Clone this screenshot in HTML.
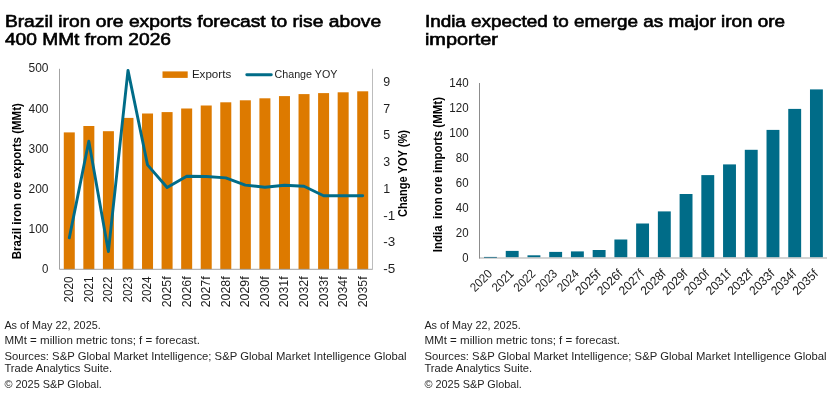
<!DOCTYPE html>
<html lang="en">
<head>
<meta charset="utf-8">
<title>Iron ore charts</title>
<style>
html,body{margin:0;padding:0;background:#fff;}
body{width:840px;height:401px;overflow:hidden;}
svg{display:block;}
text{font-family:"Liberation Sans", sans-serif;fill:#000;}
.t{font-size:17px;stroke:#000;stroke-width:0.62px;}
.a{font-size:12.4px;fill:#1e1e1e;}
.l{font-size:11.5px;fill:#1e1e1e;}
.v{font-size:13.4px;fill:#1e1e1e;}
.b{font-size:12px;font-weight:bold;white-space:pre;}
.f{font-size:11px;fill:#1e1e1e;}
</style>
</head>
<body>
<svg width="840" height="401" viewBox="0 0 840 401">
<rect x="0" y="0" width="840" height="401" fill="#fff"/>
<g fill="#DD7A00">
<rect x="63.78" y="132.40" width="11.00" height="136.80"/>
<rect x="83.34" y="126.00" width="11.00" height="143.20"/>
<rect x="102.91" y="131.20" width="11.00" height="138.00"/>
<rect x="122.47" y="117.90" width="11.00" height="151.30"/>
<rect x="142.03" y="113.50" width="11.00" height="155.70"/>
<rect x="161.59" y="112.10" width="11.00" height="157.10"/>
<rect x="181.16" y="108.50" width="11.00" height="160.70"/>
<rect x="200.72" y="105.50" width="11.00" height="163.70"/>
<rect x="220.28" y="102.30" width="11.00" height="166.90"/>
<rect x="239.84" y="100.30" width="11.00" height="168.90"/>
<rect x="259.41" y="98.30" width="11.00" height="170.90"/>
<rect x="278.97" y="96.10" width="11.00" height="173.10"/>
<rect x="298.53" y="94.10" width="11.00" height="175.10"/>
<rect x="318.09" y="93.10" width="11.00" height="176.10"/>
<rect x="337.66" y="92.30" width="11.00" height="176.90"/>
<rect x="357.22" y="91.30" width="11.00" height="177.90"/>
</g>
<path d="M59.5 68.8 V269.3 H372.5" stroke="#999" stroke-width="0.9" fill="none"/>
<path d="M372.5 68.8 V269.7" stroke="#bcbcbc" stroke-width="1" fill="none"/>
<polyline points="69.3,237.9 88.8,141.2 108.4,251.6 128.0,70.4 147.5,164.9 167.1,187.5 186.7,176.3 206.2,176.5 225.8,177.9 245.3,185.1 264.9,187.3 284.5,185.3 304.0,186.3 323.6,195.7 343.2,195.7 362.7,195.7" fill="none" stroke="#006C88" stroke-width="2.9" stroke-linejoin="round" stroke-linecap="round"/>
<rect x="162.5" y="71.4" width="25.2" height="6.5" fill="#DD7A00"/>
<text class="l" x="191.9" y="77.6" textLength="39.3" lengthAdjust="spacingAndGlyphs">Exports</text>
<line x1="246.8" y1="74.7" x2="271.3" y2="74.7" stroke="#006C88" stroke-width="2.9" stroke-linecap="round"/>
<text class="l" x="274.5" y="77.6" textLength="62.9" lengthAdjust="spacingAndGlyphs">Change YOY</text>
<text class="a" x="48.5" y="273" text-anchor="end" textLength="6.4" lengthAdjust="spacingAndGlyphs">0</text>
<text class="a" x="48.5" y="233" text-anchor="end" textLength="20.0" lengthAdjust="spacingAndGlyphs">100</text>
<text class="a" x="48.5" y="193" text-anchor="end" textLength="20.0" lengthAdjust="spacingAndGlyphs">200</text>
<text class="a" x="48.5" y="153" text-anchor="end" textLength="20.0" lengthAdjust="spacingAndGlyphs">300</text>
<text class="a" x="48.5" y="113" text-anchor="end" textLength="20.0" lengthAdjust="spacingAndGlyphs">400</text>
<text class="a" x="48.5" y="72" text-anchor="end" textLength="20.0" lengthAdjust="spacingAndGlyphs">500</text>
<text class="a" x="383.2" y="273.0" textLength="12.0" lengthAdjust="spacingAndGlyphs">-5</text>
<text class="a" x="383.2" y="246.3" textLength="12.0" lengthAdjust="spacingAndGlyphs">-3</text>
<text class="a" x="383.2" y="219.6" textLength="12.0" lengthAdjust="spacingAndGlyphs">-1</text>
<text class="a" x="383.2" y="192.9">1</text>
<text class="a" x="383.2" y="166.2">3</text>
<text class="a" x="383.2" y="139.4">5</text>
<text class="a" x="383.2" y="112.7">7</text>
<text class="a" x="383.2" y="86.0">9</text>
<text class="b" transform="translate(20.9,259.2) rotate(-90)" textLength="156" lengthAdjust="spacingAndGlyphs">Brazil iron ore exports (MMt)</text>
<text class="b" transform="translate(406.6,217) rotate(-90)" textLength="87" lengthAdjust="spacingAndGlyphs">Change YOY (%)</text>
<text class="v" transform="translate(72.98,276.4) rotate(-90)" text-anchor="end" textLength="26.2" lengthAdjust="spacingAndGlyphs">2020</text>
<text class="v" transform="translate(92.57,276.4) rotate(-90)" text-anchor="end" textLength="26.2" lengthAdjust="spacingAndGlyphs">2021</text>
<text class="v" transform="translate(112.16,276.4) rotate(-90)" text-anchor="end" textLength="26.2" lengthAdjust="spacingAndGlyphs">2022</text>
<text class="v" transform="translate(131.75,276.4) rotate(-90)" text-anchor="end" textLength="26.2" lengthAdjust="spacingAndGlyphs">2023</text>
<text class="v" transform="translate(151.34,276.4) rotate(-90)" text-anchor="end" textLength="26.2" lengthAdjust="spacingAndGlyphs">2024</text>
<text class="v" transform="translate(170.93,276.4) rotate(-90)" text-anchor="end" textLength="30.9" lengthAdjust="spacingAndGlyphs">2025f</text>
<text class="v" transform="translate(190.52,276.4) rotate(-90)" text-anchor="end" textLength="30.9" lengthAdjust="spacingAndGlyphs">2026f</text>
<text class="v" transform="translate(210.11,276.4) rotate(-90)" text-anchor="end" textLength="30.9" lengthAdjust="spacingAndGlyphs">2027f</text>
<text class="v" transform="translate(229.70,276.4) rotate(-90)" text-anchor="end" textLength="30.9" lengthAdjust="spacingAndGlyphs">2028f</text>
<text class="v" transform="translate(249.29,276.4) rotate(-90)" text-anchor="end" textLength="30.9" lengthAdjust="spacingAndGlyphs">2029f</text>
<text class="v" transform="translate(268.88,276.4) rotate(-90)" text-anchor="end" textLength="30.9" lengthAdjust="spacingAndGlyphs">2030f</text>
<text class="v" transform="translate(288.47,276.4) rotate(-90)" text-anchor="end" textLength="30.9" lengthAdjust="spacingAndGlyphs">2031f</text>
<text class="v" transform="translate(308.06,276.4) rotate(-90)" text-anchor="end" textLength="30.9" lengthAdjust="spacingAndGlyphs">2032f</text>
<text class="v" transform="translate(327.65,276.4) rotate(-90)" text-anchor="end" textLength="30.9" lengthAdjust="spacingAndGlyphs">2033f</text>
<text class="v" transform="translate(347.24,276.4) rotate(-90)" text-anchor="end" textLength="30.9" lengthAdjust="spacingAndGlyphs">2034f</text>
<text class="v" transform="translate(366.83,276.4) rotate(-90)" text-anchor="end" textLength="30.9" lengthAdjust="spacingAndGlyphs">2035f</text>
<g fill="#006C88">
<rect x="484.02" y="257.20" width="12.90" height="0.40"/>
<rect x="505.75" y="250.90" width="12.90" height="6.70"/>
<rect x="527.48" y="255.30" width="12.90" height="2.30"/>
<rect x="549.21" y="251.90" width="12.90" height="5.70"/>
<rect x="570.94" y="251.40" width="12.90" height="6.20"/>
<rect x="592.67" y="250.00" width="12.90" height="7.60"/>
<rect x="614.40" y="239.50" width="12.90" height="18.10"/>
<rect x="636.13" y="223.50" width="12.90" height="34.10"/>
<rect x="657.87" y="211.40" width="12.90" height="46.20"/>
<rect x="679.60" y="194.00" width="12.90" height="63.60"/>
<rect x="701.33" y="175.10" width="12.90" height="82.50"/>
<rect x="723.06" y="164.40" width="12.90" height="93.20"/>
<rect x="744.79" y="149.80" width="12.90" height="107.80"/>
<rect x="766.52" y="129.90" width="12.90" height="127.70"/>
<rect x="788.25" y="108.90" width="12.90" height="148.70"/>
<rect x="809.98" y="89.40" width="12.90" height="168.20"/>
</g>
<path d="M479 258.0 H827" stroke="#c6c6c6" stroke-width="1.5" fill="none"/>
<path d="M479.5 83 V258.5" stroke="#8c8c8c" stroke-width="1" fill="none"/>
<rect x="484.0" y="256.9" width="12.9" height="1.0" fill="#3f7f95"/>
<text class="a" x="468.6" y="261.9" text-anchor="end" textLength="6.3" lengthAdjust="spacingAndGlyphs">0</text>
<text class="a" x="468.6" y="236.9" text-anchor="end" textLength="12.8" lengthAdjust="spacingAndGlyphs">20</text>
<text class="a" x="468.6" y="212.0" text-anchor="end" textLength="12.8" lengthAdjust="spacingAndGlyphs">40</text>
<text class="a" x="468.6" y="187.0" text-anchor="end" textLength="12.8" lengthAdjust="spacingAndGlyphs">60</text>
<text class="a" x="468.6" y="162.0" text-anchor="end" textLength="12.8" lengthAdjust="spacingAndGlyphs">80</text>
<text class="a" x="468.6" y="137.0" text-anchor="end" textLength="19.3" lengthAdjust="spacingAndGlyphs">100</text>
<text class="a" x="468.6" y="112.1" text-anchor="end" textLength="19.3" lengthAdjust="spacingAndGlyphs">120</text>
<text class="a" x="468.6" y="87.1" text-anchor="end" textLength="19.3" lengthAdjust="spacingAndGlyphs">140</text>
<text class="b" transform="translate(441.8,252.3) rotate(-90)" textLength="155.3" lengthAdjust="spacingAndGlyphs">India  iron ore imports (MMt)</text>
<text class="a" transform="translate(492.9,274.5) rotate(-45)" text-anchor="end" textLength="25.3" lengthAdjust="spacingAndGlyphs">2020</text>
<text class="a" transform="translate(514.6,274.5) rotate(-45)" text-anchor="end" textLength="25.3" lengthAdjust="spacingAndGlyphs">2021</text>
<text class="a" transform="translate(536.3,274.5) rotate(-45)" text-anchor="end" textLength="25.3" lengthAdjust="spacingAndGlyphs">2022</text>
<text class="a" transform="translate(558.1,274.5) rotate(-45)" text-anchor="end" textLength="25.3" lengthAdjust="spacingAndGlyphs">2023</text>
<text class="a" transform="translate(579.8,274.5) rotate(-45)" text-anchor="end" textLength="25.3" lengthAdjust="spacingAndGlyphs">2024</text>
<text class="a" transform="translate(601.5,274.5) rotate(-45)" text-anchor="end" textLength="30" lengthAdjust="spacingAndGlyphs">2025f</text>
<text class="a" transform="translate(623.3,274.5) rotate(-45)" text-anchor="end" textLength="30" lengthAdjust="spacingAndGlyphs">2026f</text>
<text class="a" transform="translate(645.0,274.5) rotate(-45)" text-anchor="end" textLength="30" lengthAdjust="spacingAndGlyphs">2027f</text>
<text class="a" transform="translate(666.7,274.5) rotate(-45)" text-anchor="end" textLength="30" lengthAdjust="spacingAndGlyphs">2028f</text>
<text class="a" transform="translate(688.4,274.5) rotate(-45)" text-anchor="end" textLength="30" lengthAdjust="spacingAndGlyphs">2029f</text>
<text class="a" transform="translate(710.2,274.5) rotate(-45)" text-anchor="end" textLength="30" lengthAdjust="spacingAndGlyphs">2030f</text>
<text class="a" transform="translate(731.9,274.5) rotate(-45)" text-anchor="end" textLength="30" lengthAdjust="spacingAndGlyphs">2031f</text>
<text class="a" transform="translate(753.6,274.5) rotate(-45)" text-anchor="end" textLength="30" lengthAdjust="spacingAndGlyphs">2032f</text>
<text class="a" transform="translate(775.4,274.5) rotate(-45)" text-anchor="end" textLength="30" lengthAdjust="spacingAndGlyphs">2033f</text>
<text class="a" transform="translate(797.1,274.5) rotate(-45)" text-anchor="end" textLength="30" lengthAdjust="spacingAndGlyphs">2034f</text>
<text class="a" transform="translate(818.8,274.5) rotate(-45)" text-anchor="end" textLength="30" lengthAdjust="spacingAndGlyphs">2035f</text>
<text class="t" x="4.9" y="26.6" textLength="376.3" lengthAdjust="spacingAndGlyphs">Brazil iron ore exports forecast to rise above</text>
<text class="t" x="4.9" y="45.4" textLength="166.1" lengthAdjust="spacingAndGlyphs">400 MMt from 2026</text>
<text class="t" x="424.9" y="26.6" textLength="360.1" lengthAdjust="spacingAndGlyphs">India expected to emerge as major iron ore</text>
<text class="t" x="424.9" y="45.4" textLength="73" lengthAdjust="spacingAndGlyphs">importer</text>
<text class="f" x="4.4" y="329" textLength="96.3" lengthAdjust="spacingAndGlyphs">As of May 22, 2025.</text>
<text class="f" x="4.4" y="344" textLength="195.5" lengthAdjust="spacingAndGlyphs">MMt = million metric tons; f = forecast.</text>
<text class="f" x="4.4" y="359.7" textLength="402.2" lengthAdjust="spacingAndGlyphs">Sources: S&amp;P Global Market Intelligence; S&amp;P Global Market Intelligence Global</text>
<text class="f" x="4.4" y="372" textLength="107.8" lengthAdjust="spacingAndGlyphs">Trade Analytics Suite.</text>
<text class="f" x="4.4" y="387.5" textLength="97.5" lengthAdjust="spacingAndGlyphs">© 2025 S&amp;P Global.</text>
<text class="f" x="424.4" y="329" textLength="96.3" lengthAdjust="spacingAndGlyphs">As of May 22, 2025.</text>
<text class="f" x="424.4" y="344" textLength="195.5" lengthAdjust="spacingAndGlyphs">MMt = million metric tons; f = forecast.</text>
<text class="f" x="424.4" y="359.7" textLength="402.2" lengthAdjust="spacingAndGlyphs">Sources: S&amp;P Global Market Intelligence; S&amp;P Global Market Intelligence Global</text>
<text class="f" x="424.4" y="372" textLength="107.8" lengthAdjust="spacingAndGlyphs">Trade Analytics Suite.</text>
<text class="f" x="424.4" y="387.5" textLength="97.5" lengthAdjust="spacingAndGlyphs">© 2025 S&amp;P Global.</text>
</svg>
</body>
</html>
